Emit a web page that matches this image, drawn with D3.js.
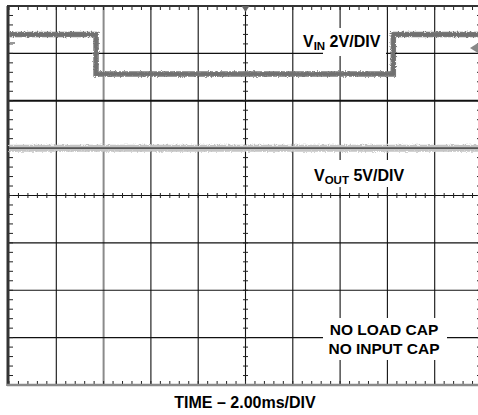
<!DOCTYPE html>
<html lang="en">
<head>
<meta charset="UTF-8">
<title>VIN / VOUT scope capture</title>
<script src="https://d3js.org/d3.v7.min.js"></script>
<style>
    body { margin: 0; background: #fff; }
    #chart { width: 478px; height: 415px; overflow: hidden; }
    text { font-family: "Liberation Sans", Arial, sans-serif; font-weight: bold; fill: #000; }
</style>
</head>
<body>
<div id="chart"></div>
<script>
    // scope settings
    const timePerDiv = 2;        // ms/div
    const vinPerDiv = 2;         // V/div
    const voutPerDiv = 5;        // V/div
    const vinGroundDiv = 5;      // divisions from bottom
    const voutGroundDiv = 2;

    // VIN trace (ms, V)
    const vinTime = [0, 3.68, 3.68, 16.25, 16.25, 20];
    const vinVolts = [4.8, 4.8, 3.13, 3.13, 4.8, 4.8];

    // VOUT trace (ms, V)
    const voutTime = [0, 20];
    const voutVolts = [15, 15];

    const notes = ["NO LOAD CAP", "NO INPUT CAP"];

    const width = 478, height = 415;
    const plotLeft = 9, plotTop = 6, div = 47.3, divY = 47.375;
    const plotRight = plotLeft + 10 * div, plotBottom = plotTop + 8 * divY;

    const svg = d3.select("#chart").append("svg")
        .attr("width", width)
        .attr("height", height);

    // a bit of grain for the traces
    const defs = svg.append("defs");
    const f = defs.append("filter").attr("id", "grain")
        .attr("filterUnits", "userSpaceOnUse")
        .attr("x", 0).attr("y", 0).attr("width", width).attr("height", height);
    f.append("feTurbulence").attr("type", "fractalNoise").attr("baseFrequency", "0.7 0.9")
        .attr("numOctaves", 2).attr("seed", 3).attr("result", "n");
    f.append("feDisplacementMap").attr("in", "SourceGraphic").attr("in2", "n")
        .attr("scale", 3.5).attr("xChannelSelector", "R").attr("yChannelSelector", "G");

    const x = d3.scaleLinear().domain([0, 10 * timePerDiv]).range([plotLeft, plotRight]);
    const yDiv = d3.scaleLinear().domain([0, 8]).range([plotBottom, plotTop]);

    // grid
    const grid = svg.append("g");
    grid.selectAll(".vg")
        .data(d3.range(1, 10))
        .enter().append("line")
        .attr("x1", d => x(d * timePerDiv)).attr("x2", d => x(d * timePerDiv))
        .attr("y1", plotTop).attr("y2", plotBottom)
        .attr("stroke", d => d === 2 ? "#8a8a8a" : "#111")
        .attr("stroke-width", d => d === 2 ? 2 : 1.1);
    grid.selectAll(".hg")
        .data(d3.range(1, 8))
        .enter().append("line")
        .attr("x1", plotLeft).attr("x2", plotRight)
        .attr("y1", d => yDiv(d)).attr("y2", d => yDiv(d))
        .attr("stroke", "#111")
        .attr("stroke-width", d => d === 6 ? 2.2 : 1.1);

    // minor ticks
    const minorX = d3.range(0, 10 * timePerDiv + 0.01, timePerDiv / 5);
    const minorY = d3.range(0, 8.01, 0.2);
    const ticks = svg.append("g").attr("stroke", "#222").attr("stroke-width", 1);
    [[plotTop, plotTop + 4], [plotBottom - 4, plotBottom], [yDiv(4) - 2.5, yDiv(4) + 2.5]].forEach(([a, b]) => {
        ticks.selectAll(null).data(minorX).enter().append("line")
            .attr("x1", d => x(d)).attr("x2", d => x(d))
            .attr("y1", a).attr("y2", b);
    });
    [[plotLeft, plotLeft + 4], [plotRight - 5, plotRight], [x(5 * timePerDiv) - 2.5, x(5 * timePerDiv) + 2.5]].forEach(([a, b]) => {
        ticks.selectAll(null).data(minorY).enter().append("line")
            .attr("y1", d => yDiv(d)).attr("y2", d => yDiv(d))
            .attr("x1", a).attr("x2", b);
    });

    // frame
    svg.append("line").attr("x1", plotLeft - 1).attr("x2", plotLeft - 1).attr("y1", plotTop).attr("y2", plotBottom + 1)
        .attr("stroke", "#333").attr("stroke-width", 3);
    svg.append("line").attr("x1", plotLeft - 2).attr("x2", plotRight).attr("y1", plotTop).attr("y2", plotTop)
        .attr("stroke", "#333").attr("stroke-width", 2);
    svg.append("line").attr("x1", plotLeft - 2).attr("x2", plotRight).attr("y1", plotBottom).attr("y2", plotBottom)
        .attr("stroke", "#8a8a8a").attr("stroke-width", 2.5);
    svg.append("line").attr("x1", plotRight).attr("x2", plotRight).attr("y1", plotTop).attr("y2", plotBottom)
        .attr("stroke", "#333").attr("stroke-width", 2);

    // white boxes behind the labels
    const boxes = svg.append("g").attr("fill", "#fff");
    boxes.append("rect").attr("x", 298).attr("y", 28).attr("width", 88).attr("height", 22);
    boxes.append("rect").attr("x", 323).attr("y", 28).attr("width", 63).attr("height", 28);
    boxes.append("rect").attr("x", 300).attr("y", 160).attr("width", 115).attr("height", 27);
    boxes.append("rect").attr("x", 323).attr("y", 318).attr("width", 124).attr("height", 42);

    // traces
    const vinLine = d3.line()
        .x((d, i) => x(vinTime[i]))
        .y(d => yDiv(vinGroundDiv + d / vinPerDiv));
    const voutLine = d3.line()
        .x((d, i) => x(voutTime[i]))
        .y(d => yDiv(voutGroundDiv + d / voutPerDiv));

    svg.append("path").datum(voutVolts)
        .attr("d", voutLine)
        .attr("fill", "none").attr("stroke", "#c4c4c4").attr("stroke-width", 7)
        .attr("filter", "url(#grain)");
    svg.append("path").datum(voutVolts)
        .attr("d", voutLine)
        .attr("fill", "none").attr("stroke", "#555").attr("stroke-width", 1.6);

    svg.append("path").datum(vinVolts)
        .attr("d", vinLine)
        .attr("fill", "none").attr("stroke", "#7a7a7a").attr("stroke-width", 5.5)
        .attr("filter", "url(#grain)");
    svg.append("path").datum(vinVolts)
        .attr("d", vinLine)
        .attr("fill", "none").attr("stroke", "#707070").attr("stroke-width", 3);

    // markers: trigger, channel
    const xc = x(5 * timePerDiv);
    svg.append("path").attr("d", `M${xc - 4},${plotTop}L${xc + 4},${plotTop}L${xc},${plotTop + 6}Z`).attr("fill", "#666");
    svg.append("path").attr("d", `M${470},${48}L${478},${43}L${478},${53}Z`).attr("fill", "#888");
    svg.append("rect").attr("x", plotLeft + 1).attr("y", 42).attr("width", 5).attr("height", 2).attr("fill", "#999");

    // labels
    const vin = svg.append("text").attr("x", 303).attr("y", 47).attr("font-size", 16);
    vin.append("tspan").text("V");
    vin.append("tspan").attr("font-size", 11.5).attr("dy", 3).text("IN");
    vin.append("tspan").attr("dy", -3).text(" 2V/DIV");

    const vout = svg.append("text").attr("x", 314).attr("y", 181).attr("font-size", 16);
    vout.append("tspan").text("V");
    vout.append("tspan").attr("font-size", 11.5).attr("dy", 3).text("OUT");
    vout.append("tspan").attr("dy", -3).text(" 5V/DIV");

    svg.selectAll(".note")
        .data(notes)
        .enter().append("text")
        .attr("x", 384).attr("y", (d, i) => 335 + i * 18.5)
        .attr("text-anchor", "middle").attr("font-size", 15.5)
        .text(d => d);

    svg.append("text")
        .attr("x", 245).attr("y", 407.5)
        .attr("text-anchor", "middle").attr("font-size", 16)
        .text("TIME \u2013 " + timePerDiv.toFixed(2) + "ms/DIV");
</script>
</body>
</html>
